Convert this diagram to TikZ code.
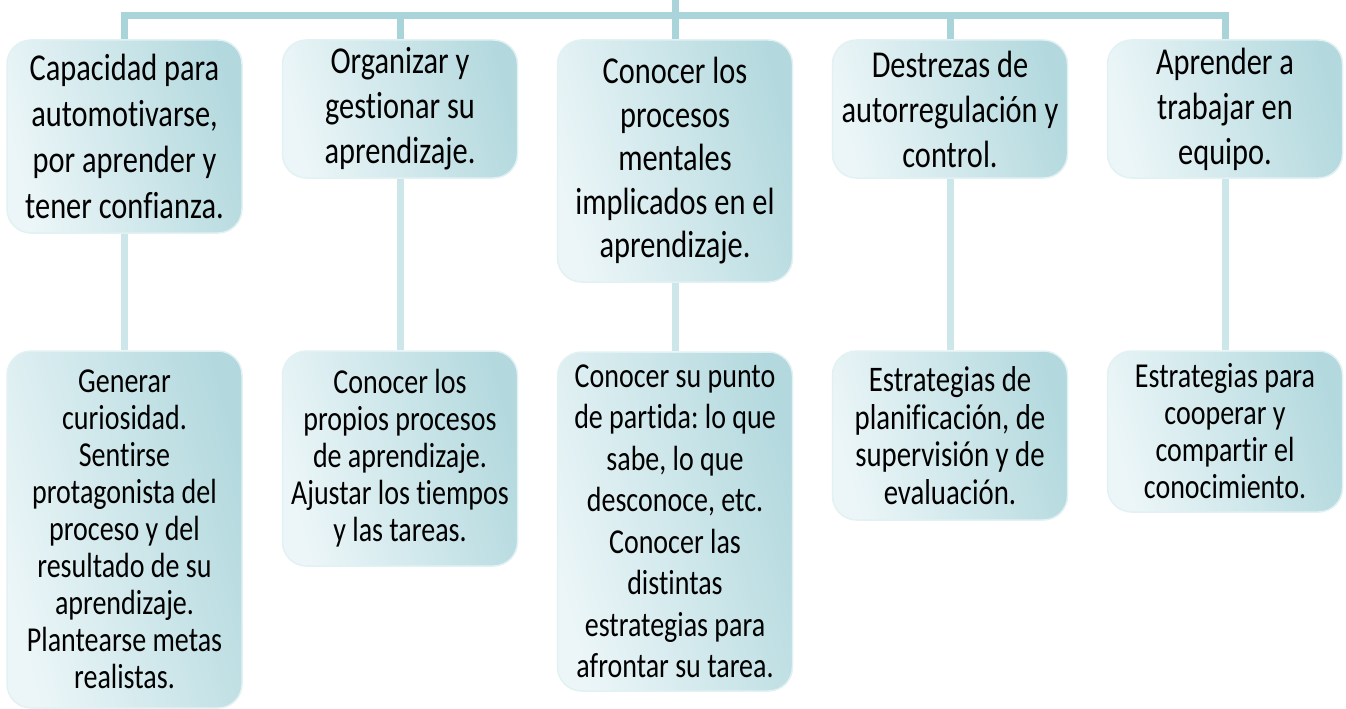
\documentclass[tikz,border=0pt]{standalone}
\usepackage{fontspec}
\setmainfont{Carlito}[FakeStretch=0.8, Ligatures=NoCommon]
\usepackage{tikz}
\usetikzlibrary{backgrounds}

\definecolor{barblue}{HTML}{A9D4D9}
\definecolor{stemblue}{HTML}{CCE6E9}
\definecolor{boxlight}{HTML}{ECF6F8}
\definecolor{boxdark}{HTML}{B3D9DE}
\definecolor{boxedge}{HTML}{E2F1F3}
\newcommand{\topsize}{\fontsize{38}{45}\selectfont}
\newcommand{\lowsize}{\fontsize{35}{37}\selectfont}
\frenchspacing

\tikzset{
  card/.style={rounded corners=24pt, draw=boxedge, line width=1.5pt,
    left color=boxlight, right color=boxdark, shading angle=105,
    minimum width=235pt, inner sep=0pt, align=center},
  topbox/.style={card, font=\topsize},
  lowbox/.style={card, font=\lowsize},
  link/.style={draw=barblue, line width=7pt},
  sublink/.style={draw=stemblue, line width=7pt}
}

\begin{document}
\begin{tikzpicture}[x=1pt, y=-1pt]
\useasboundingbox (0,0) rectangle (1346,709);
\coordinate (root) at (675,0);
\coordinate (bar) at (675,16);

\node[topbox, minimum height=193pt, font=\fontsize{38}{46}\selectfont] (t1) at (124.5,136.5) {Capacidad para\\automotivarse,\\por aprender y\\tener confianza.};
\node[topbox, minimum height=138pt] (t2) at (400,109) {Organizar y\\gestionar su\\aprendizaje.};
\node[topbox, minimum height=242pt, font=\fontsize{38}{43.5}\selectfont] (t3) at (675,161) {Conocer los\\procesos\\mentales\\implicados en el\\aprendizaje.};
\node[topbox, minimum height=138pt] (t4) at (950,109) {Destrezas de\\autorregulación y\\control.};
\node[topbox, minimum height=138pt] (t5) at (1225,109) {Aprender a\\trabajar en\\equipo.};

\node[lowbox, minimum height=357pt] (b1) at (124.5,529.5) {Generar\\curiosidad.\\Sentirse\\protagonista del\\proceso y del\\resultado de su\\aprendizaje.\\Plantearse metas\\realistas.};
\node[lowbox, minimum height=215pt] (b2) at (400,458.5) {Conocer los\\propios procesos\\de aprendizaje.\\Ajustar los tiempos\\y las tareas.};
\node[lowbox, minimum height=339pt, font=\fontsize{35}{41.5}\selectfont] (b3) at (675,521.5) {Conocer su punto\\de partida: lo que\\sabe, lo que\\desconoce, etc.\\Conocer las\\distintas\\estrategias para\\afrontar su tarea.};
\node[lowbox, minimum height=169pt, font=\fontsize{36}{37.5}\selectfont] (b4) at (950,435.5) {Estrategias de\\planificación, de\\supervisión y de\\evaluación.};
\node[lowbox, minimum height=161pt] (b5) at (1225,431.5) {Estrategias para\\cooperar y\\compartir el\\conocimiento.};

\begin{scope}[on background layer]
\draw[link] (t1.north) -- (t1.north |- bar) -- (t5.north |- bar) -- (t5.north);
\draw[link] (root) -- (bar);
\foreach \i in {2,3,4}
  \draw[link] (bar -| t\i.north) -- (t\i.north);
\foreach \i in {1,...,5}
  \draw[sublink] (t\i.south) -- (b\i.north);
\end{scope}
\end{tikzpicture}
\end{document}
